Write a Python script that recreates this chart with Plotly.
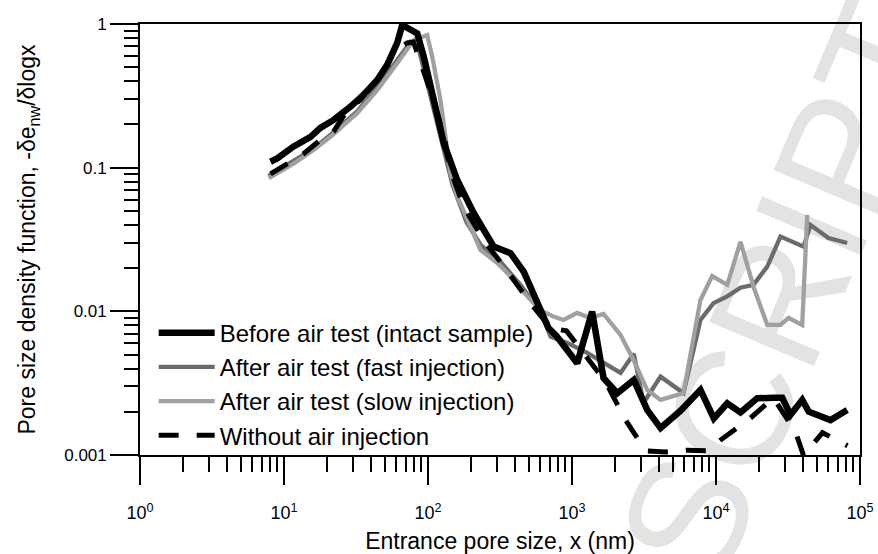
import plotly.graph_objects as go

# Entrance pore size x (nm) and pore size density function for each condition
x_before = [8.06, 8.97, 11.6, 15.3, 17.9, 22.1, 29.0, 35.6, 44.4, 52.1, 61.1, 66.2, 84.2, 93.5,
            109.7, 128.8, 159.6, 208, 286, 374, 463, 573, 687, 780, 1087, 1380, 1655, 2061,
            2686, 3327, 4121, 5666, 7800, 9660, 11970, 14790, 19320, 25060, 28840, 32900,
            39700, 44100, 62400, 81500]
y_before = [0.110, 0.116, 0.140, 0.164, 0.189, 0.215, 0.266, 0.321, 0.408, 0.519, 0.738, 0.984,
            0.861, 0.592, 0.296, 0.148, 0.082, 0.0482, 0.0282, 0.0254, 0.0188, 0.0114, 0.00766,
            0.00674, 0.00435, 0.00995, 0.00344, 0.00269, 0.00333, 0.00206, 0.00154, 0.00203,
            0.00284, 0.0018, 0.00229, 0.00198, 0.00248, 0.0025, 0.0025, 0.0019, 0.00242,
            0.0020, 0.00175, 0.00206]

x_fast = [7.8, 11.6, 16.0, 21.0, 32.4, 44.6, 61.4, 75.5, 85.9, 104, 128, 148, 185, 232, 319,
          439, 604, 710, 926, 1276, 1755, 2173, 2686, 3140, 4121, 5946, 7800, 9610, 11970,
          14790, 18200, 22700, 28050, 40550, 45300, 60400, 81500]
y_fast = [0.0875, 0.110, 0.135, 0.169, 0.248, 0.364, 0.562, 0.75, 0.681, 0.321, 0.133, 0.0758,
          0.0419, 0.029, 0.0221, 0.0153, 0.0099, 0.00667, 0.00603, 0.00514, 0.00424, 0.00373,
          0.00506, 0.00231, 0.00351, 0.0027, 0.00871, 0.0114, 0.0127, 0.0146, 0.0153, 0.0205,
          0.0331, 0.0282, 0.0399, 0.0324, 0.0299]

x_slow = [7.84, 11.7, 16.1, 21.0, 32.2, 44.4, 61.1, 79.7, 98.7, 107, 122, 143, 160, 187, 232,
          303, 355, 489, 604, 745, 873, 1087, 1343, 1655, 2173, 2674, 3327, 4121, 5946, 7800,
          9410, 11970, 14790, 18320, 22700, 28050, 31870, 39700, 43000]
y_slow = [0.0844, 0.107, 0.133, 0.164, 0.239, 0.347, 0.533, 0.774, 0.838, 0.592, 0.296, 0.0918,
          0.0628, 0.0433, 0.0267, 0.0217, 0.0185, 0.0127, 0.0102, 0.00919, 0.00871, 0.00975,
          0.009, 0.0096, 0.00685, 0.00459, 0.00284, 0.00242, 0.0027, 0.012, 0.0176, 0.0153,
          0.0305, 0.0146, 0.00804, 0.00804, 0.009, 0.00804, 0.0469]

x_without = [8.06, 11.1, 13.7, 17.9, 22.1, 27.5, 34.0, 43.2, 49.1, 59.4, 71.7, 79.3, 88.7, 109,
             130, 143, 177, 243, 351, 515, 710, 916, 1710, 2355, 3240, 4460, 6340, 8870, 10740,
             14090, 17370, 25060, 35650, 40550, 54900, 81900]
y_without = [0.0904, 0.110, 0.125, 0.156, 0.178, 0.252, 0.296, 0.408, 0.479, 0.659, 0.738, 0.75,
             0.535, 0.296, 0.161, 0.0964, 0.0533, 0.0314, 0.0194, 0.0114, 0.00766, 0.00731,
             0.00323, 0.00175, 0.00107, 0.00105, 0.00108, 0.00107, 0.00127, 0.00157, 0.00181,
             0.0025, 0.00145, 0.00099, 0.00143, 0.00116]

x_tick_vals = [1, 10, 100, 1000, 10000, 100000]
x_tick_text = ["10<sup>0</sup>", "10<sup>1</sup>", "10<sup>2</sup>", "10<sup>3</sup>",
               "10<sup>4</sup>", "10<sup>5</sup>"]
y_tick_vals = [0.001, 0.01, 0.1, 1]
y_tick_text = ["0.001", "0.01", "0.1", "1"]

FONT = "Arial, 'Liberation Sans', sans-serif"

x_minor = [m * 10 ** e for e in range(0, 5) for m in range(2, 10)]
y_minor = [m * 10.0 ** e for e in range(-3, 0) for m in range(2, 10)]

fig = go.Figure()

series = [
    # (name, x, y, colour, width, dash, legend rank)
    ("After air test (fast injection)", x_fast, y_fast, "#6b6b6b", 4.3, "solid", 2),
    ("After air test (slow injection)", x_slow, y_slow, "#a0a0a0", 4.3, "solid", 3),
    ("Before air test (intact sample)", x_before, y_before, "#000000", 6.5, "solid", 1),
    ("Without air injection", x_without, y_without, "#000000", 5, "20px,18px", 4),
]
for name, xs, ys, color, width, dash, rank in series:
    fig.add_trace(go.Scatter(
        x=xs, y=ys, mode="lines", name=name,
        line=dict(color=color, width=width, dash=dash),
        legendrank=rank, legendgroup=name,
    ))

axis_common = dict(
    type="log",
    automargin=False,
    showgrid=False,
    zeroline=False,
    showline=True,
    linecolor="black",
    linewidth=1.7,
    mirror=True,
    ticks="outside",
    ticklen=28,
    tickwidth=1.5,
    tickcolor="black",
)

fig.update_xaxes(
    **axis_common,
    range=[0, 5],
    tickmode="array",
    tickvals=x_tick_vals,
    ticktext=x_tick_text,
    tickfont=dict(family=FONT, size=18, color="black"),
    ticklabelstandoff=13,
    minor=dict(tickvals=x_minor, ticks="outside", ticklen=15, tickwidth=1.5, tickcolor="black"),
    title=dict(text="Entrance pore size, x (nm)", font=dict(family=FONT, size=23, color="black"),
               standoff=10),
)
fig.update_yaxes(
    **axis_common,
    range=[-3, 0],
    tickmode="array",
    tickvals=y_tick_vals,
    ticktext=y_tick_text,
    tickfont=dict(family=FONT, size=17, color="black"),
    minor=dict(tickvals=y_minor, ticks="outside", ticklen=14, tickwidth=1.5, tickcolor="black"),
    title=dict(text="Pore size density function, -δe<sub>nw</sub>/δlogx",
               font=dict(family=FONT, size=23, color="black"), standoff=22),
)

# faint diagonal stamp text behind the curves
fig.add_shape(
    type="rect", xref="paper", yref="paper",
    x0=0.865, x1=0.885, y0=0.39, y1=0.41,
    line=dict(width=0), fillcolor="rgba(0,0,0,0)", layer="below",
    label=dict(text="SCRIPT", textangle=-67, textposition="middle center",
               font=dict(family=FONT, size=165, color="#e3e3e3")),
)

fig.update_layout(
    width=878, height=554,
    margin=dict(l=140, r=18, t=24, b=99),
    paper_bgcolor="white", plot_bgcolor="white",
    showlegend=True,
    legend=dict(
        x=0.019, y=0.335, xanchor="left", yanchor="top",
        bgcolor="rgba(0,0,0,0)", borderwidth=0,
        font=dict(family=FONT, size=24, color="black"),
        itemwidth=56, tracegroupgap=0,
    ),
)

fig.write_html("out.html")
